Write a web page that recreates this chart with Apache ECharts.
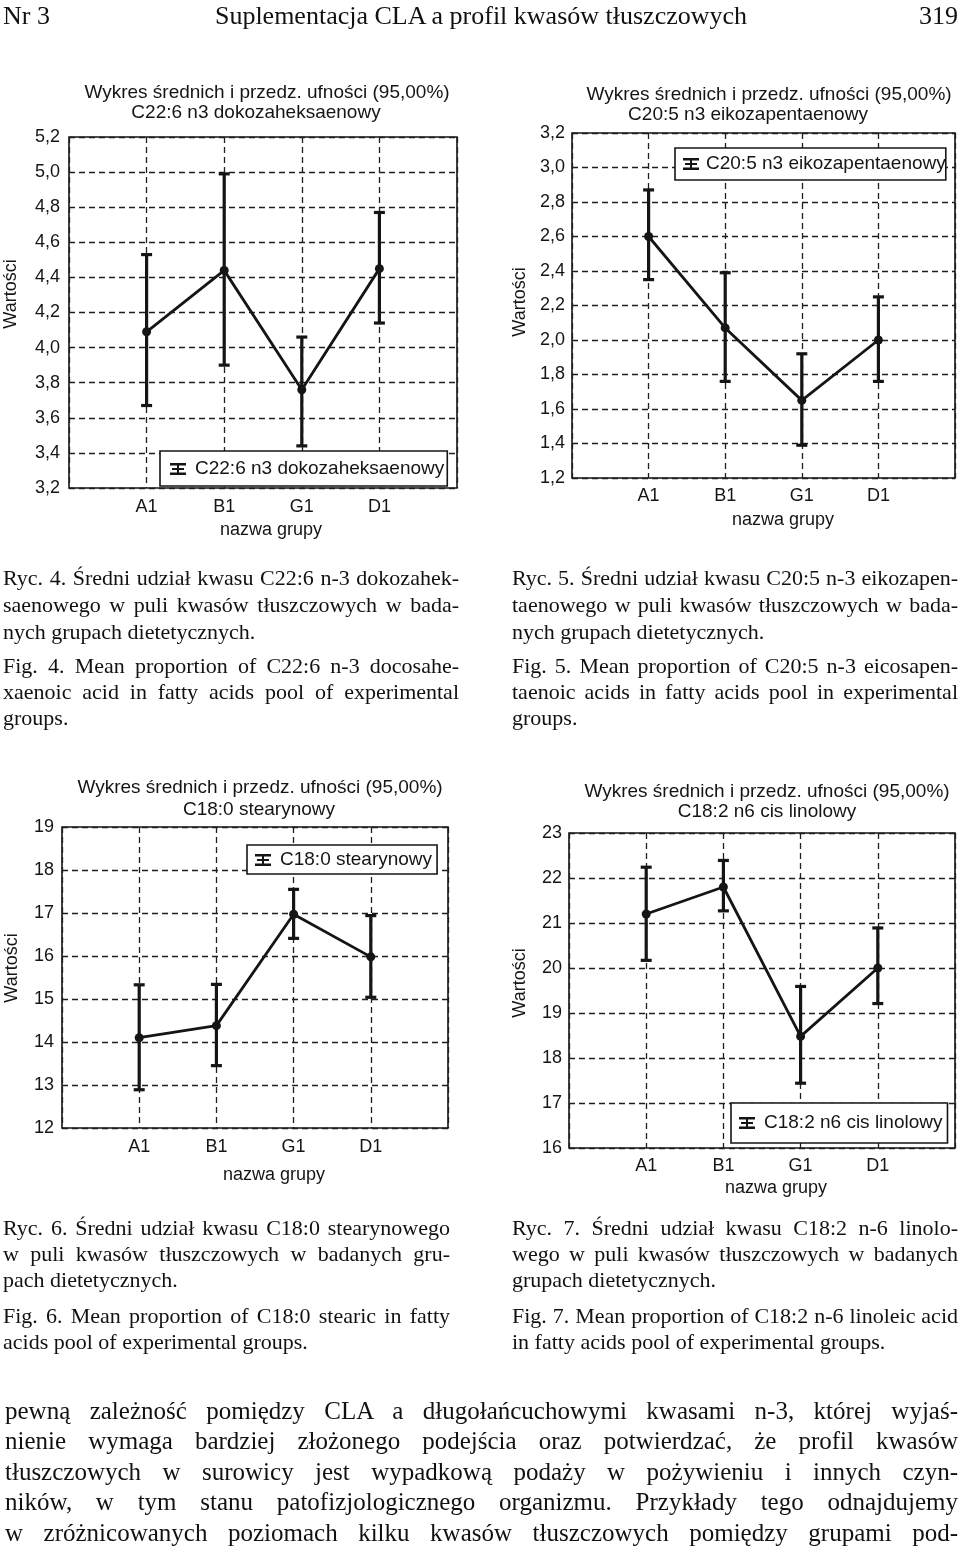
<!DOCTYPE html>
<html><head><meta charset="utf-8">
<script src="https://cdn.jsdelivr.net/npm/echarts@6/dist/echarts.min.js"></script>
<style>
html,body{margin:0;padding:0;background:#fff;}
#page{position:relative;width:960px;height:1556px;overflow:hidden;}
#chart{position:absolute;left:0;top:0;width:960px;height:1556px;}
.t{position:absolute;font-family:"Liberation Serif","Times New Roman",serif;color:#111;white-space:nowrap;}
.t span{display:inline-block;}
</style></head>
<body><div id="page"><div id="chart"></div><div id="txt"></div></div>
<script>
// ---------- data ----------
const categories = ['A1', 'B1', 'G1', 'D1'];

const c1Name = 'C22:6 n3 dokozaheksaenowy';
const c1Mean = [4.09, 4.44, 3.76, 4.45];
const c1Low  = [3.67, 3.90, 3.44, 4.14];
const c1High = [4.53, 4.99, 4.06, 4.77];
const c1Ticks = ['3,2','3,4','3,6','3,8','4,0','4,2','4,4','4,6','4,8','5,0','5,2'];

const c2Name = 'C20:5 n3 eikozapentaenowy';
const c2Mean = [2.60, 2.07, 1.65, 2.00];
const c2Low  = [2.35, 1.76, 1.39, 1.76];
const c2High = [2.87, 2.39, 1.92, 2.25];
const c2Ticks = ['1,2','1,4','1,6','1,8','2,0','2,2','2,4','2,6','2,8','3,0','3,2'];

const c3Name = 'C18:0 stearynowy';
const c3Mean = [14.10, 14.38, 16.97, 15.98];
const c3Low  = [12.89, 13.45, 16.41, 15.04];
const c3High = [15.33, 15.34, 17.55, 16.94];
const c3Ticks = ['12','13','14','15','16','17','18','19'];

const c4Name = 'C18:2 n6 cis linolowy';
const c4Mean = [21.20, 21.80, 18.48, 20.00];
const c4Low  = [20.17, 21.27, 17.44, 19.21];
const c4High = [22.24, 22.39, 19.59, 20.89];
const c4Ticks = ['16','17','18','19','20','21','22','23'];

const chartTitle = 'Wykres średnich i przedz. ufności (95,00%)';
const xTitle = 'nazwa grupy';
const yTitle = 'Wartości';

// ---------- layout ----------
const panels = [
  {name:c1Name, mean:c1Mean, low:c1Low, high:c1High, ticks:c1Ticks, min:3.2, max:5.2, step:0.2,
   grid:{left:69, top:137, width:388, height:351}, ym:9, xm:10,
   t1:[267,93], t2:[256,113], xt:[271,530], yt:[11,294],
   leg:{left:160, top:451, padding:[8,3,7,10], tp:4}},
  {name:c2Name, mean:c2Mean, low:c2Low, high:c2High, ticks:c2Ticks, min:1.2, max:3.2, step:0.2,
   grid:{left:572, top:133, width:383, height:345}, ym:7, xm:9,
   t1:[769,95], t2:[748,115], xt:[783,520], yt:[520,302],
   leg:{left:675, top:148, padding:[6,0,6,8], tp:2}},
  {name:c3Name, mean:c3Mean, low:c3Low, high:c3High, ticks:c3Ticks, min:12, max:19, step:1,
   grid:{left:62, top:827, width:386, height:301}, ym:8, xm:10,
   t1:[260,788], t2:[259,810], xt:[274,1175], yt:[12,968],
   leg:{left:247, top:845, padding:[5,5,4,8], tp:4}},
  {name:c4Name, mean:c4Mean, low:c4Low, high:c4High, ticks:c4Ticks, min:16, max:23, step:1,
   grid:{left:569, top:833, width:386, height:315}, ym:7, xm:9,
   t1:[767,792], t2:[767,812], xt:[776,1188], yt:[520,983],
   leg:{left:731, top:1103, padding:[10,5,10,8], tp:4}}
];

const INK = '#151515';
const FONT = '"Liberation Sans", Arial, sans-serif';
const legendIcon = 'path://M0,0H16V2.5H0Z M0,9.5H16V12H0Z M7,2.5H9V9.5H7Z M2,5H14V7H2Z';

function errRender(params, api) {
  const x = api.value(0), lo = api.value(1), hi = api.value(2);
  const a = api.coord([x, hi]), b = api.coord([x, lo]);
  const w = 5.5, st = {stroke: INK, lineWidth: 3.2};
  return {type:'group', children:[
    {type:'line', shape:{x1:a[0], y1:a[1], x2:b[0], y2:b[1]}, style:st},
    {type:'line', shape:{x1:a[0]-w, y1:a[1], x2:a[0]+w, y2:a[1]}, style:st},
    {type:'line', shape:{x1:b[0]-w, y1:b[1], x2:b[0]+w, y2:b[1]}, style:st}
  ]};
}

const option = {animation:false, grid:[], xAxis:[], yAxis:[], series:[], legend:[], graphic:[]};
const dashed = {show:true, lineStyle:{color:'#1e1e1e', width:1.3, type:[6,4]}};

panels.forEach((p, k) => {
  option.grid.push(Object.assign({show:true, borderColor:INK, borderWidth:1.6, backgroundColor:'transparent'}, p.grid));
  option.xAxis.push({gridIndex:k, type:'value', min:0, max:categories.length+1, interval:1,
    axisLine:{show:false}, axisTick:{show:false}, splitLine:dashed,
    axisLabel:{margin:p.xm, fontSize:18, color:INK, fontFamily:FONT,
      formatter: v => categories[v-1] || ''}});
  option.yAxis.push({gridIndex:k, type:'value', min:p.min, max:p.max, interval:p.step,
    axisLine:{show:false}, axisTick:{show:false}, splitLine:dashed,
    axisLabel:{margin:p.ym, fontSize:18, color:INK, fontFamily:FONT,
      formatter: (v, i) => p.ticks[Math.round((v - p.min) / p.step)]}});
  option.series.push({type:'custom', xAxisIndex:k, yAxisIndex:k, renderItem:errRender, z:2,
    encode:{x:0, y:[1,2]},
    data: categories.map((c, i) => [i+1, p.low[i], p.high[i]])});
  option.series.push({type:'line', name:p.name, xAxisIndex:k, yAxisIndex:k, z:3,
    symbol:'circle', symbolSize:9, color:INK,
    lineStyle:{color:INK, width:2.8}, itemStyle:{color:INK},
    data: categories.map((c, i) => [i+1, p.mean[i]])});
  option.legend.push({data:[{name:p.name, icon:legendIcon}], left:p.leg.left, top:p.leg.top,
    padding:p.leg.padding, backgroundColor:'#fff', borderColor:INK, borderWidth:1.6, borderRadius:0,
    itemWidth:16, itemHeight:12, selectedMode:false,
    textStyle:{fontSize:19, color:INK, fontFamily:FONT, lineHeight:20, padding:[0,0,0,p.leg.tp]}});
  const txt = (x, y, s, size, rot) => ({type:'text', x:x, y:y, rotation:rot||0,
    style:{text:s, fill:INK, font:size + 'px ' + FONT, textAlign:'center', textVerticalAlign:'middle'}});
  option.graphic.push(txt(p.t1[0], p.t1[1], chartTitle, 19));
  option.graphic.push(txt(p.t2[0], p.t2[1], p.name, 19));
  option.graphic.push(txt(p.xt[0], p.xt[1], xTitle, 18));
  option.graphic.push(txt(p.yt[0], p.yt[1], yTitle, 18, Math.PI/2));
});

echarts.init(document.getElementById('chart'), null, {renderer:'canvas'}).setOption(option);

// ---------- page text ----------
const headerLeft = 'Nr 3';
const headerMid = 'Suplementacja CLA a profil kwasów tłuszczowych';
const headerRight = '319';

const cap4 = ['Ryc. 4. Średni udział kwasu C22:6 n-3 dokozahek-', 'saenowego w puli kwasów tłuszczowych w bada-', 'nych grupach dietetycznych.',
  'Fig. 4. Mean proportion of C22:6 n-3 docosahe-', 'xaenoic acid in fatty acids pool of experimental', 'groups.'];
const cap5 = ['Ryc. 5. Średni udział kwasu C20:5 n-3 eikozapen-', 'taenowego w puli kwasów tłuszczowych w bada-', 'nych grupach dietetycznych.',
  'Fig. 5. Mean proportion of C20:5 n-3 eicosapen-', 'taenoic acids in fatty acids pool in experimental', 'groups.'];
const cap6 = ['Ryc. 6. Średni udział kwasu C18:0 stearynowego', 'w puli kwasów tłuszczowych w badanych gru-', 'pach dietetycznych.',
  'Fig. 6. Mean proportion of C18:0 stearic in fatty', 'acids pool of experimental groups.'];
const cap7 = ['Ryc. 7. Średni udział kwasu C18:2 n-6 linolo-', 'wego w puli kwasów tłuszczowych w badanych', 'grupach dietetycznych.',
  'Fig. 7. Mean proportion of C18:2 n-6 linoleic acid', 'in fatty acids pool of experimental groups.'];
const body = ['pewną zależność pomiędzy CLA a długołańcuchowymi kwasami n-3, której wyjaś-',
  'nienie wymaga bardziej złożonego podejścia oraz potwierdzać, że profil kwasów',
  'tłuszczowych w surowicy jest wypadkową podaży w pożywieniu i innych czyn-',
  'ników, w tym stanu patofizjologicznego organizmu. Przykłady tego odnajdujemy',
  'w zróżnicowanych poziomach kilku kwasów tłuszczowych pomiędzy grupami pod-'];

const holder = document.getElementById('txt');
function line(s, x, cy, size, width, justify, align) {
  const d = document.createElement('div');
  d.className = 't';
  const lh = Math.round(size * 1.2);
  d.style.left = x + 'px'; d.style.top = (cy - lh / 2) + 'px';
  d.style.fontSize = size + 'px'; d.style.lineHeight = lh + 'px';
  const sp = document.createElement('span'); sp.textContent = s; d.appendChild(sp);
  holder.appendChild(d);
  if (justify) {
    const nat = sp.getBoundingClientRect().width;
    const n = (s.match(/ /g) || []).length;
    if (n) sp.style.wordSpacing = ((width - nat) / n) + 'px';
  }
  if (align === 'center') d.style.left = (x - sp.getBoundingClientRect().width / 2) + 'px';
  if (align === 'right') d.style.left = (x - sp.getBoundingClientRect().width) + 'px';
}
line(headerLeft, 3, 15, 26);
line(headerMid, 481, 15, 26, 0, false, 'center');
line(headerRight, 958, 15, 26, 0, false, 'right');

function caption(arr, x, width, ys, size) {
  arr.forEach((s, i) => {
    const last = (i === 2) || (i === arr.length - 1);
    line(s, x, ys[i], size, width, !last);
  });
}
caption(cap4, 3, 456, [578, 605, 632, 666, 692, 718], 22);
caption(cap5, 512, 446, [578, 605, 632, 666, 692, 718], 22);
caption(cap6, 3, 447, [1228, 1254, 1280, 1316, 1342], 22);
caption(cap7, 512, 446, [1228, 1254, 1280, 1316, 1342], 22);
const bodyY = [1411, 1441, 1472, 1502, 1533];
body.forEach((s, i) => line(s, 5, bodyY[i], 25, 953, true));
</script>
</body></html>
